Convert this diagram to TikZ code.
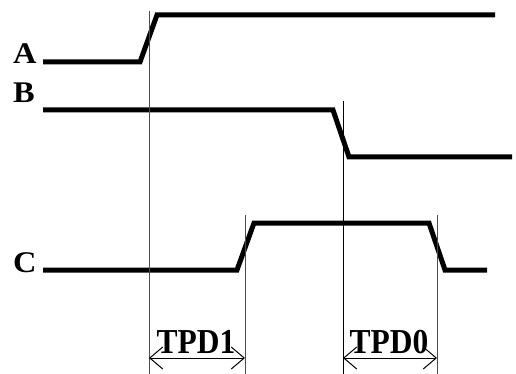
\documentclass[tikz,border=0pt]{standalone}
\usepackage{fontspec}
\setmainfont{Liberation Serif}
\usetikzlibrary{arrows.meta}
\begin{document}
\begin{tikzpicture}[x=1pt,y=-1pt,
  sig/.style={line width=5pt,line join=miter},
  guide/.style={line width=1pt,draw=black!70},
  lbl/.style={font=\fontsize{30}{30}\selectfont\bfseries,inner sep=0pt,anchor=base west,xscale=1.08,transform shape},
  tpd/.style={font=\fontsize{35}{35}\selectfont\bfseries,inner sep=0pt,anchor=base,xscale=0.9,transform shape},
  meas/.style={line width=1pt,{Straight Barb[length=13pt,width=22pt]}-{Straight Barb[length=13pt,width=22pt]}}]
\useasboundingbox (0,0) rectangle (516,374);
% signals
\draw[sig] (43,62) -- (140,62) -- (157,15) -- (495,15);
\draw[sig] (43,110) -- (333,110) -- (349,157) -- (512,157);
\draw[sig] (43,270) -- (237,270) -- (254,223) -- (429,223) -- (445,270) -- (487,270);
% labels
\node[lbl] (la) at (13,64) {A};
\node[lbl] (lb) at (13,103) {B};
\node[lbl] (lc) at (13,272) {C};
% guides
\coordinate (g1t) at (149,11); \coordinate (g1b) at (149,374);
\coordinate (g2t) at (245,215); \coordinate (g2b) at (245,374);
\coordinate (g3t) at (343,101); \coordinate (g3b) at (343,374);
\coordinate (g4t) at (437,215); \coordinate (g4b) at (437,374);
\draw[guide] (g1t) -- (g1b);
\draw[guide] (g2t) -- (g2b);
\draw[guide,draw=black] (g3t) -- (g3b);
\draw[guide] (g4t) -- (g4b);
% measurements
\coordinate (m1a) at (149,358); \coordinate (m1b) at (245,358);
\coordinate (m2a) at (343,358); \coordinate (m2b) at (437,358);
\draw[meas] (m1a) -- (m1b);
\draw[meas] (m2a) -- (m2b);
\node[tpd] (t1) at (196,353) {TPD1};
\node[tpd] (t0) at (389,353) {TPD0};
\end{tikzpicture}
\end{document}
